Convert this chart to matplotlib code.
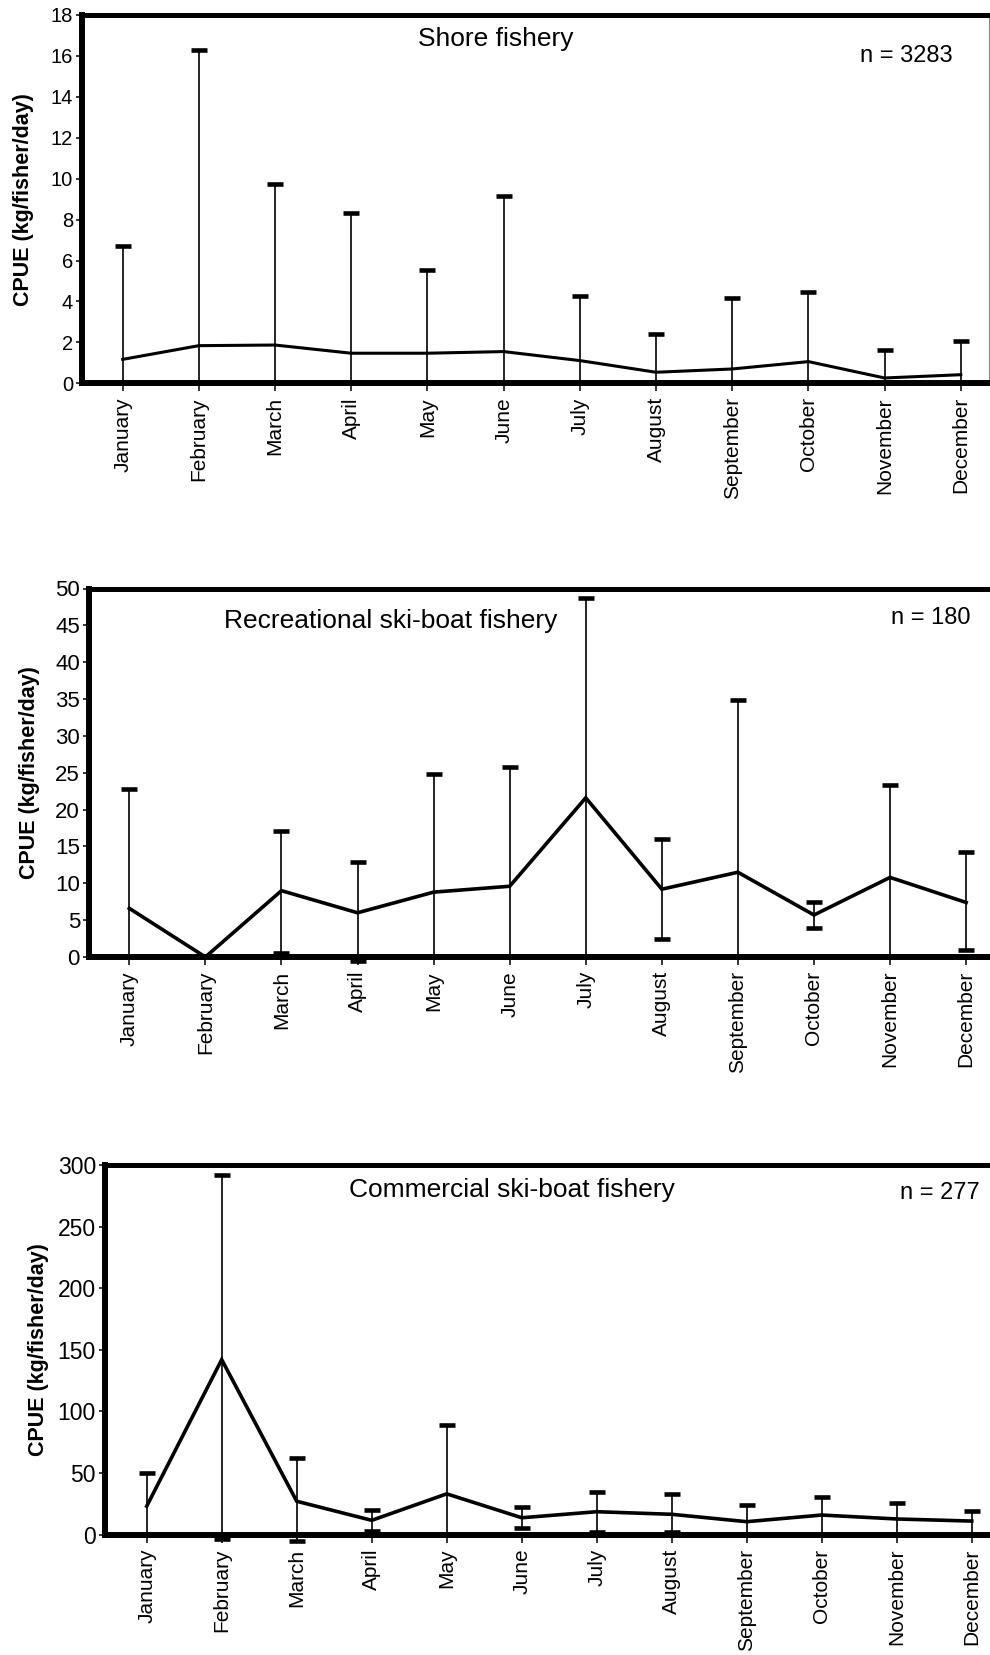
import matplotlib
matplotlib.use("Agg")
import matplotlib.pyplot as plt
import numpy as np

plt.rcParams['font.family'] = ['Liberation Sans', 'DejaVu Sans']

months = ['January', 'February', 'March', 'April', 'May', 'June', 'July',
          'August', 'September', 'October', 'November', 'December']

# Shore fishery: monthly mean CPUE and the ends of the error bars
# (None in a lower list = the bar runs off the bottom of the scale)
shore_mean = [1.17, 1.84, 1.87, 1.47, 1.47, 1.55, 1.11, 0.54, 0.70, 1.06, 0.26, 0.42]
shore_upper = [6.73, 16.29, 9.72, 8.31, 5.54, 9.17, 4.27, 2.39, 4.19, 4.45, 1.63, 2.07]
shore_lower = [None] * 12

# Recreational ski-boat fishery (None in upper = no spread for that month)
rec_mean = [6.6, 0.0, 9.0, 6.0, 8.8, 9.6, 21.6, 9.2, 11.5, 5.7, 10.8, 7.4]
rec_upper = [22.8, None, 17.1, 12.9, 24.8, 25.8, 48.7, 16.0, 34.9, 7.5, 23.4, 14.2]
rec_lower = [None, None, 0.55, -0.6, None, None, None, 2.4, None, 3.9, None, 0.9]

# Commercial ski-boat fishery
com_mean = [23.0, 142.0, 27.0, 11.5, 33.0, 13.6, 18.5, 16.4, 10.4, 15.8, 12.6, 10.9]
com_upper = [50.1, 292.0, 61.8, 20.0, 88.9, 22.5, 34.7, 32.8, 23.9, 30.7, 25.3, 19.3]
com_lower = [None, -4.0, -5.0, 3.0, None, 5.0, 2.0, 2.0, None, None, None, None]

W, H = 990, 1655
fig = plt.figure(figsize=(W / 100, H / 100), dpi=100)
fig.patch.set_facecolor('white')


def make_axes(left, top, right, bottom):
    return fig.add_axes([left / W, 1 - bottom / H, (right - left) / W, (bottom - top) / H])


def panel(box, xlim, ymax, ystep, mean, upper, lower, title, title_xy, ntext, n_xy,
          ylabel_x, right_spine=False, line_w=2.4, tick_fs=14.5):
    ax = make_axes(*box)
    x = np.arange(len(months))
    ax.set_xlim(*xlim)
    ax.set_ylim(0, ymax)

    # error bars: thin stems with heavy caps
    for xi, m, hi, lo in zip(x, mean, upper, lower):
        if hi is None:
            continue
        bottom = 0 if lo is None else lo
        ax.vlines(xi, bottom, hi, color='black', lw=1.2, zorder=3, clip_on=False)
        ax.plot([xi], [hi], marker='_', ms=11.5, mew=3.3, color='black',
                zorder=4, clip_on=False)
        if lo is not None:
            ax.plot([xi], [lo], marker='_', ms=11.5, mew=3.3, color='black',
                    zorder=4, clip_on=False)

    ax.plot(x, mean, color='black', lw=line_w, zorder=5, solid_joinstyle='miter')

    for side in ('left', 'bottom'):
        ax.spines[side].set_linewidth(4.3)
    ax.spines['top'].set_linewidth(3.6)
    if right_spine:
        ax.spines['right'].set_linewidth(0.8)
        ax.spines['right'].set_color('#888888')
    else:
        ax.spines['right'].set_visible(False)
    for sp in ax.spines.values():
        sp.set_capstyle('projecting')
        sp.set_zorder(6)

    ticks = np.arange(0, ymax + 0.01, ystep)
    ax.set_yticks(ticks)
    ax.set_yticklabels([f'{v:g}' for v in ticks])
    ax.tick_params(axis='y', direction='out', length=4.5, width=1.1, pad=2,
                   labelsize=tick_fs)
    ax.set_xticks(x)
    ax.set_xticklabels(months, rotation=90, fontsize=15)
    ax.tick_params(axis='x', direction='out', length=6, width=1.1, pad=4)

    fig.text(title_xy[0] / W, 1 - title_xy[1] / H, title, ha='center', va='center',
             fontsize=19)
    fig.text(n_xy[0] / W, 1 - n_xy[1] / H, ntext, ha='center', va='center',
             fontsize=17)
    cy = (box[1] + box[3]) / 2
    fig.text(ylabel_x / W, 1 - cy / H, 'CPUE (kg/fisher/day)', rotation=90,
             ha='center', va='center', fontsize=15.5, fontweight='bold')
    return ax


panel((82, 15, 989, 383.3), (-0.534, 11.37), 18, 2,
      shore_mean, shore_upper, shore_lower,
      'Shore fishery', (496, 39), 'n = 3283', (906, 56),
      ylabel_x=24, right_spine=True, line_w=2.2, tick_fs=14.5)

panel((89, 588.5, 992, 957), (-0.53, 11.34), 50, 5,
      rec_mean, rec_upper, rec_lower,
      'Recreational ski-boat fishery', (391, 621), 'n = 180', (931, 618),
      ylabel_x=30, line_w=2.6, tick_fs=16)

panel((105, 1165, 992, 1534.5), (-0.556, 11.27), 300, 50,
      com_mean, com_upper, com_lower,
      'Commercial ski-boat fishery', (512, 1190), 'n = 277', (940, 1193),
      ylabel_x=39, line_w=2.6, tick_fs=16.5)

fig.savefig('out.png', dpi=100, facecolor='white')
